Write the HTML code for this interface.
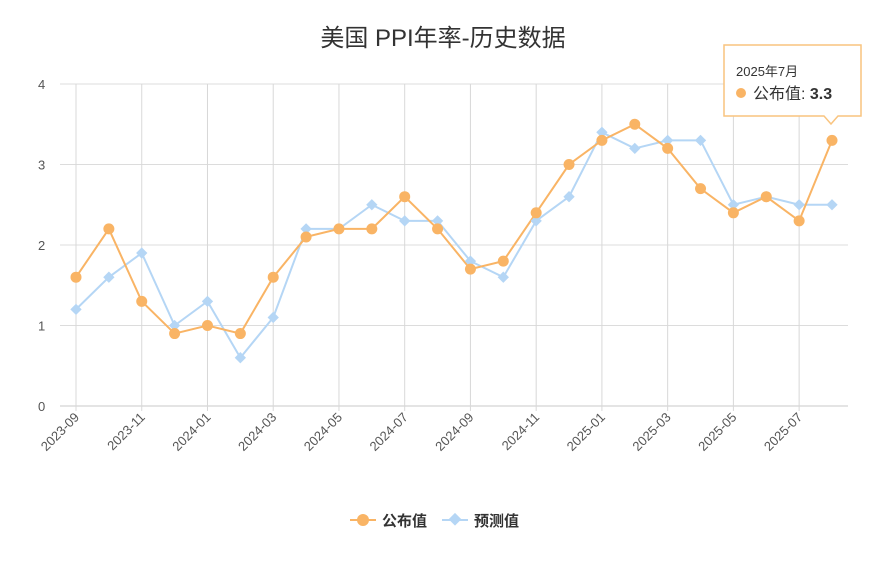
<!DOCTYPE html>
<html><head><meta charset="utf-8"><style>
body{margin:0;background:#fff;font-family:"Liberation Sans","Noto Sans CJK SC",sans-serif}
</style></head><body>
<svg width="886" height="564" xmlns="http://www.w3.org/2000/svg" id="chart" style="font-family:'Liberation Sans','Noto Sans CJK SC',sans-serif">
<text x="443" y="46" text-anchor="middle" font-size="24" fill="#333">美国 PPI年率-历史数据</text>
<g id="grid"></g><g id="axes"></g><g id="series"></g>
<g>
<line x1="350" y1="520" x2="376" y2="520" stroke="#f9b465" stroke-width="2"/><circle cx="363" cy="520" r="6" fill="#f9b465"/>
<text x="382" y="526" font-size="15" font-weight="bold" fill="#333">公布值</text>
<line x1="442" y1="520" x2="468" y2="520" stroke="#b5d6f5" stroke-width="2"/><rect x="450" y="515" width="9" height="9" fill="#b5d6f5" transform="rotate(45 455 520)"/>
<text x="474" y="526" font-size="15" font-weight="bold" fill="#333">预测值</text>
</g>
<g>
<path d="M724 45 H861 V116 H838 L831 124 L824 116 H724 Z" fill="#fff" stroke="#f9c47f" stroke-width="1.5"/>
<text x="736" y="76" font-size="13" fill="#333">2025年7月</text>
<circle cx="741" cy="93" r="5" fill="#f9b465"/>
<text x="753" y="99" font-size="16" fill="#333">公布值: <tspan font-weight="bold">3.3</tspan></text>
</g>
</svg>
<script>
const categories=["2023-09","2023-10","2023-11","2023-12","2024-01","2024-02","2024-03","2024-04","2024-05","2024-06","2024-07","2024-08","2024-09","2024-10","2024-11","2024-12","2025-01","2025-02","2025-03","2025-04","2025-05","2025-06","2025-07","2025-08"];
const actual=[1.6,2.2,1.3,0.9,1.0,0.9,1.6,2.1,2.2,2.2,2.6,2.2,1.7,1.8,2.4,3.0,3.3,3.5,3.2,2.7,2.4,2.6,2.3,3.3];
const forecast=[1.2,1.6,1.9,1.0,1.3,0.6,1.1,2.2,2.2,2.5,2.3,2.3,1.8,1.6,2.3,2.6,3.4,3.2,3.3,3.3,2.5,2.6,2.5,2.5];
const yTicks=[0,1,2,3,4];
const NS="http://www.w3.org/2000/svg";
const x=i=>76+i*(832-76)/(categories.length-1);
const y=v=>406-v*80.5;
function mk(t,a,p){const e=document.createElementNS(NS,t);for(const k in a)e.setAttribute(k,a[k]);p.appendChild(e);return e;}
const g=document.getElementById('grid'),ax=document.getElementById('axes'),s=document.getElementById('series');
yTicks.forEach(v=>{const l=mk('line',{x1:60,x2:848,y1:y(v),y2:y(v),stroke:v===0?'#c8c8c8':'#dcdcdc'},g);

const t=mk('text',{x:38,y:y(v)+5,'font-size':13,fill:'#555'},ax);t.textContent=v;
});
categories.forEach((c,i)=>{if(i%2)return;const l=mk('line',{x1:x(i),x2:x(i),y1:84,y2:411,stroke:'#d8d8d8'},g);

const t=mk('text',{x:x(i)+4,y:418,'font-size':13,fill:'#555','text-anchor':'end',transform:`rotate(-45 ${x(i)+4} 418)`},ax);t.textContent=c;
});
function line(d,col,name){const p=mk('polyline',{points:d.map((v,i)=>x(i)+','+y(v)).join(' '),fill:'none',stroke:col,'stroke-width':2},s);
}
line(forecast,'#b5d6f5','forecast');line(actual,'#f9b465','actual');
forecast.forEach((v,i)=>{const r=mk('rect',{x:x(i)-4,y:y(v)-4,width:8,height:8,fill:'#b5d6f5',transform:`rotate(45 ${x(i)} ${y(v)})`},s);
});
actual.forEach((v,i)=>{const c=mk('circle',{cx:x(i),cy:y(v),r:5.5,fill:'#f9b465'},s);
});
</script>
</body></html>
